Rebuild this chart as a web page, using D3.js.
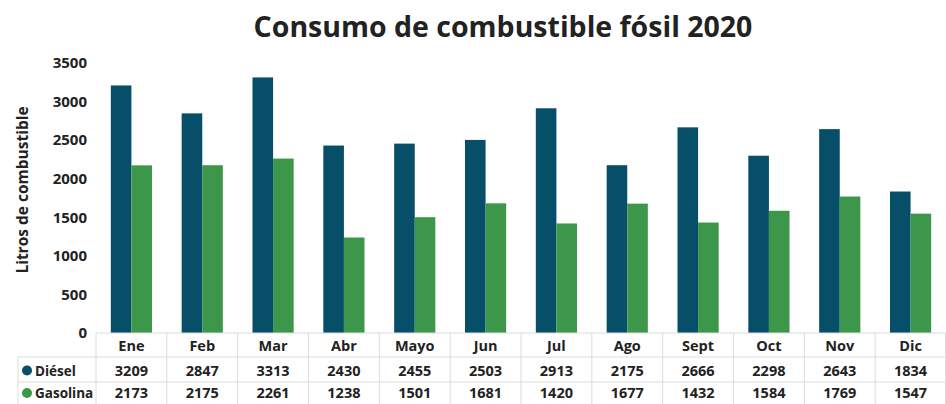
<!DOCTYPE html>
<html>
<head>
  <meta charset="utf-8">
  <script src="https://d3js.org/d3.v7.min.js"></script>
  <style>
    body { margin: 0; background: #fff; }
    text { font-family: "Open Sans", Lato, sans-serif; fill: #222; }
  </style>
</head>
<body>
  <div id="my_dataviz"></div>
<script>

  // data
  var months = ["Ene", "Feb", "Mar", "Abr", "Mayo", "Jun", "Jul", "Ago", "Sept", "Oct", "Nov", "Dic"];
  var diesel = [3209, 2847, 3313, 2430, 2455, 2503, 2913, 2175, 2666, 2298, 2643, 1834];
  var gasolina = [2173, 2175, 2261, 1238, 1501, 1681, 1420, 1677, 1432, 1584, 1769, 1547];
  var seriesNames = ["Diésel", "Gasolina"];
  var colors = ["#074f69", "#3c974a"];
  var yTicks = [0, 500, 1000, 1500, 2000, 2500, 3000, 3500];

  var W = 946, H = 404;
  var margin = {left: 96, right: 946, top: 63, bottom: 333};
  var rowH = [24, 25, 22];

  var svg = d3.select("#my_dataviz")
    .append("svg")
      .attr("width", W)
      .attr("height", H);

  // title
  svg.append("text")
    .attr("x", 503).attr("y", 37)
    .attr("text-anchor", "middle")
    .style("font-size", "28.5px")
    .style("font-weight", "bold")
    .text("Consumo de combustible fósil 2020");

  var x = d3.scaleBand().domain(months).range([margin.left, margin.right]);
  var xs = d3.scaleBand().domain(seriesNames).range([0, x.bandwidth()]).paddingInner(0).paddingOuter(0.72);
  var y = d3.scaleLinear().domain([0, 3500]).range([margin.bottom, margin.top]);

  // y axis labels
  var yAxis = svg.append("g")
    .attr("transform", "translate(" + (margin.left - 9) + ",0)")
    .call(d3.axisLeft(y).tickValues(yTicks).tickSize(0).tickPadding(0).tickFormat(d3.format("d")));
  yAxis.select(".domain").remove();
  yAxis.selectAll("text")
    .style("font-size", "15px")
    .style("font-weight", "bold")
    .style("font-family", "'Open Sans', sans-serif")
    .attr("fill", "#222");

  svg.append("text")
    .attr("transform", "translate(28," + ((margin.top + margin.bottom) / 2 - 8) + ") rotate(-90)")
    .attr("text-anchor", "middle")
    .style("font-size", "15.5px")
    .style("font-weight", "bold")
    .text("Litros de combustible");

  // bars
  var data = months.map(function(m, i) {
    return { month: m, values: [diesel[i], gasolina[i]] };
  });

  var groups = svg.selectAll(".grp")
    .data(data)
    .enter().append("g")
      .attr("transform", function(d) { return "translate(" + x(d.month) + ",0)"; });

  groups.selectAll("rect")
    .data(function(d) { return d.values.map(function(v, j) { return { name: seriesNames[j], value: v, c: colors[j] }; }); })
    .enter().append("rect")
      .attr("x", function(d) { return xs(d.name); })
      .attr("width", xs.bandwidth())
      .attr("y", function(d) { return y(d.value); })
      .attr("height", function(d) { return margin.bottom - y(d.value); })
      .attr("fill", function(d) { return d.c; });

  // data table
  var grid = "#dcdcdc";
  var y0 = margin.bottom, y1 = y0 + rowH[0], y2 = y1 + rowH[1], y3 = y2 + rowH[2];
  var tbl = svg.append("g");

  tbl.append("line").attr("x1", margin.left).attr("x2", margin.right).attr("y1", y0).attr("y2", y0).attr("stroke", grid);
  [y1, y2].forEach(function(yy) {
    tbl.append("line").attr("x1", 18).attr("x2", margin.right).attr("y1", yy).attr("y2", yy).attr("stroke", grid);
  });
  tbl.append("line").attr("x1", 18).attr("x2", 18).attr("y1", y1).attr("y2", y3).attr("stroke", grid);
  months.forEach(function(m) {
    tbl.append("line")
      .attr("x1", x(m)).attr("x2", x(m)).attr("y1", y0).attr("y2", y3)
      .attr("stroke", grid);
  });
  tbl.append("line").attr("x1", margin.right - 0.5).attr("x2", margin.right - 0.5).attr("y1", y0).attr("y2", y3).attr("stroke", grid);

  tbl.selectAll(".hdr")
    .data(months)
    .enter().append("text")
      .attr("x", function(d) { return x(d) + x.bandwidth() / 2; })
      .attr("y", y0 + 18)
      .attr("text-anchor", "middle")
      .style("font-size", "14.5px")
      .style("font-weight", "bold")
      .text(function(d) { return d; });

  [diesel, gasolina].forEach(function(arr, j) {
    var ry = j === 0 ? y1 + 18.5 : y2 + 16;
    tbl.append("circle")
      .attr("cx", 27).attr("cy", ry - 5).attr("r", 5)
      .attr("fill", colors[j]);
    tbl.append("text")
      .attr("x", 35).attr("y", ry)
      .style("font-size", "13.5px")
      .style("font-weight", "bold")
      .text(seriesNames[j]);
    tbl.selectAll(".v" + j)
      .data(arr)
      .enter().append("text")
        .attr("x", function(d, i) { return x(months[i]) + x.bandwidth() / 2; })
        .attr("y", ry)
        .attr("text-anchor", "middle")
        .style("font-size", "14.5px")
        .style("font-weight", "bold")
        .text(function(d) { return d; });
  });

</script>
</body>
</html>
